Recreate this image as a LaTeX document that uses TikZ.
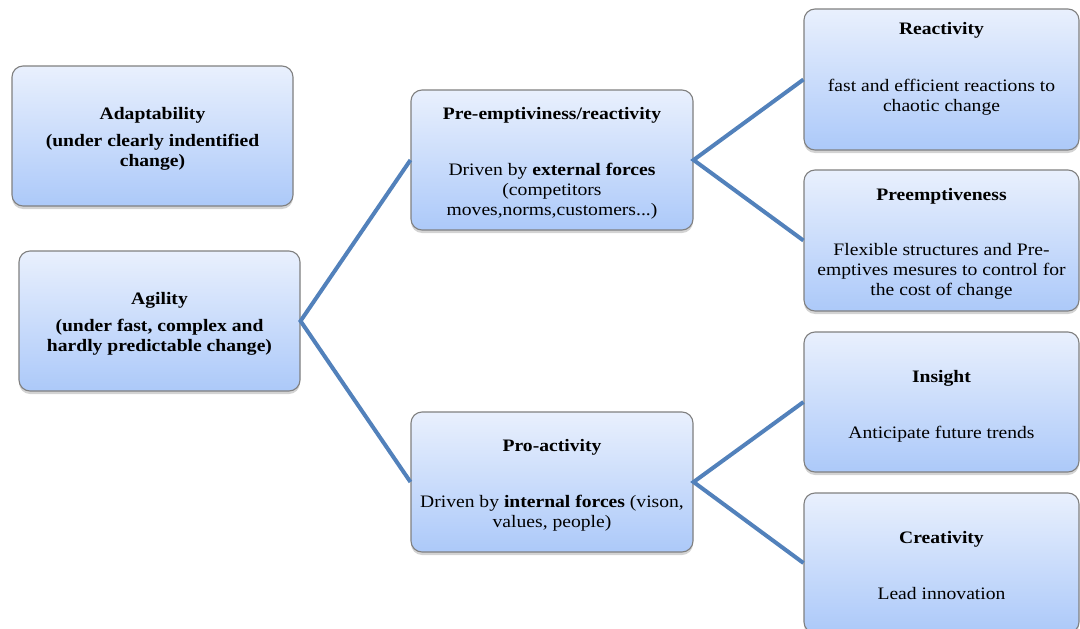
\documentclass[tikz,border=0pt]{standalone}
\usepackage{fontspec}
\setmainfont{Liberation Serif}[FakeStretch=1.12]
\usetikzlibrary{shadows}
\definecolor{boxtop}{RGB}{233,240,253}
\definecolor{boxbot}{RGB}{172,201,249}
\definecolor{boxline}{RGB}{128,128,128}
\definecolor{conncol}{RGB}{82,129,187}
\tikzset{
  box/.style={rectangle, rounded corners=11pt, draw=boxline, line width=1.1pt,
    top color=boxtop, bottom color=boxbot,
    drop shadow={opacity=0.35, shadow xshift=0pt, shadow yshift=-3pt}},
  txt/.style={align=center, font=\fontsize{17.5}{20}\selectfont, text=black},
  conn/.style={draw=conncol, line width=4pt}
}
\begin{document}
\begin{tikzpicture}[x=1pt,y=-1pt]
\useasboundingbox (0,0) rectangle (1080,629);
\clip (0,0) rectangle (1080,629);
% boxes
\node[box, minimum width=281pt, minimum height=140pt] (adapt) at (152.5,136) {};
\node[box, minimum width=281pt, minimum height=140pt] (agil) at (159.5,321) {};
\node[box, minimum width=282pt, minimum height=140pt] (pre) at (552,160) {};
\node[box, minimum width=282pt, minimum height=140pt] (pro) at (552,482) {};
\node[box, minimum width=275pt, minimum height=141pt] (react) at (941.5,79.5) {};
\node[box, minimum width=275pt, minimum height=141pt] (preem) at (941.5,240.5) {};
\node[box, minimum width=275pt, minimum height=140pt] (ins) at (941.5,402) {};
\node[box, minimum width=275pt, minimum height=140pt] (crea) at (941.5,563) {};
% texts
\node[txt] (tadapt) at ([yshift=-3pt]adapt.center) {\textbf{Adaptability}\\[7pt]\textbf{(under clearly indentified}\\\textbf{change)}};
\node[txt] (tagil) at ([yshift=-3pt]agil.center) {\textbf{Agility}\\[7pt]\textbf{(under fast, complex and}\\\textbf{hardly predictable change)}};
\node[txt] (tpre) at ([yshift=-3pt]pre.center) {\textbf{Pre-emptiviness/reactivity}\\[36pt]Driven by \textbf{external forces}\\(competitors\\moves,norms,customers...)};
\node[txt] (tpro) at ([yshift=-3pt]pro.center) {\textbf{Pro-activity}\\[36pt]Driven by \textbf{internal forces} (vison,\\values, people)};
\node[txt] (treact) at ([yshift=11pt]react.center) {\textbf{Reactivity}\\[37pt]fast and efficient reactions to\\chaotic change};
\node[txt] (tpreem) at ([yshift=-3pt]preem.center) {\textbf{Preemptiveness}\\[35pt]Flexible structures and Pre-\\emptives mesures to control for\\the cost of change};
\node[txt] (tins) at ([yshift=-4pt]ins.center) {\textbf{Insight}\\[36pt]Anticipate future trends};
\node[txt] (tcrea) at ([yshift=-3pt]crea.center) {\textbf{Creativity}\\[36pt]Lead innovation};
% connectors
\draw[conn] (pre.west) -- (agil.east) -- (pro.west);
\draw[conn] (react.west) -- (pre.east) -- (preem.west);
\draw[conn] (ins.west) -- (pro.east) -- (crea.west);
\end{tikzpicture}
\end{document}
